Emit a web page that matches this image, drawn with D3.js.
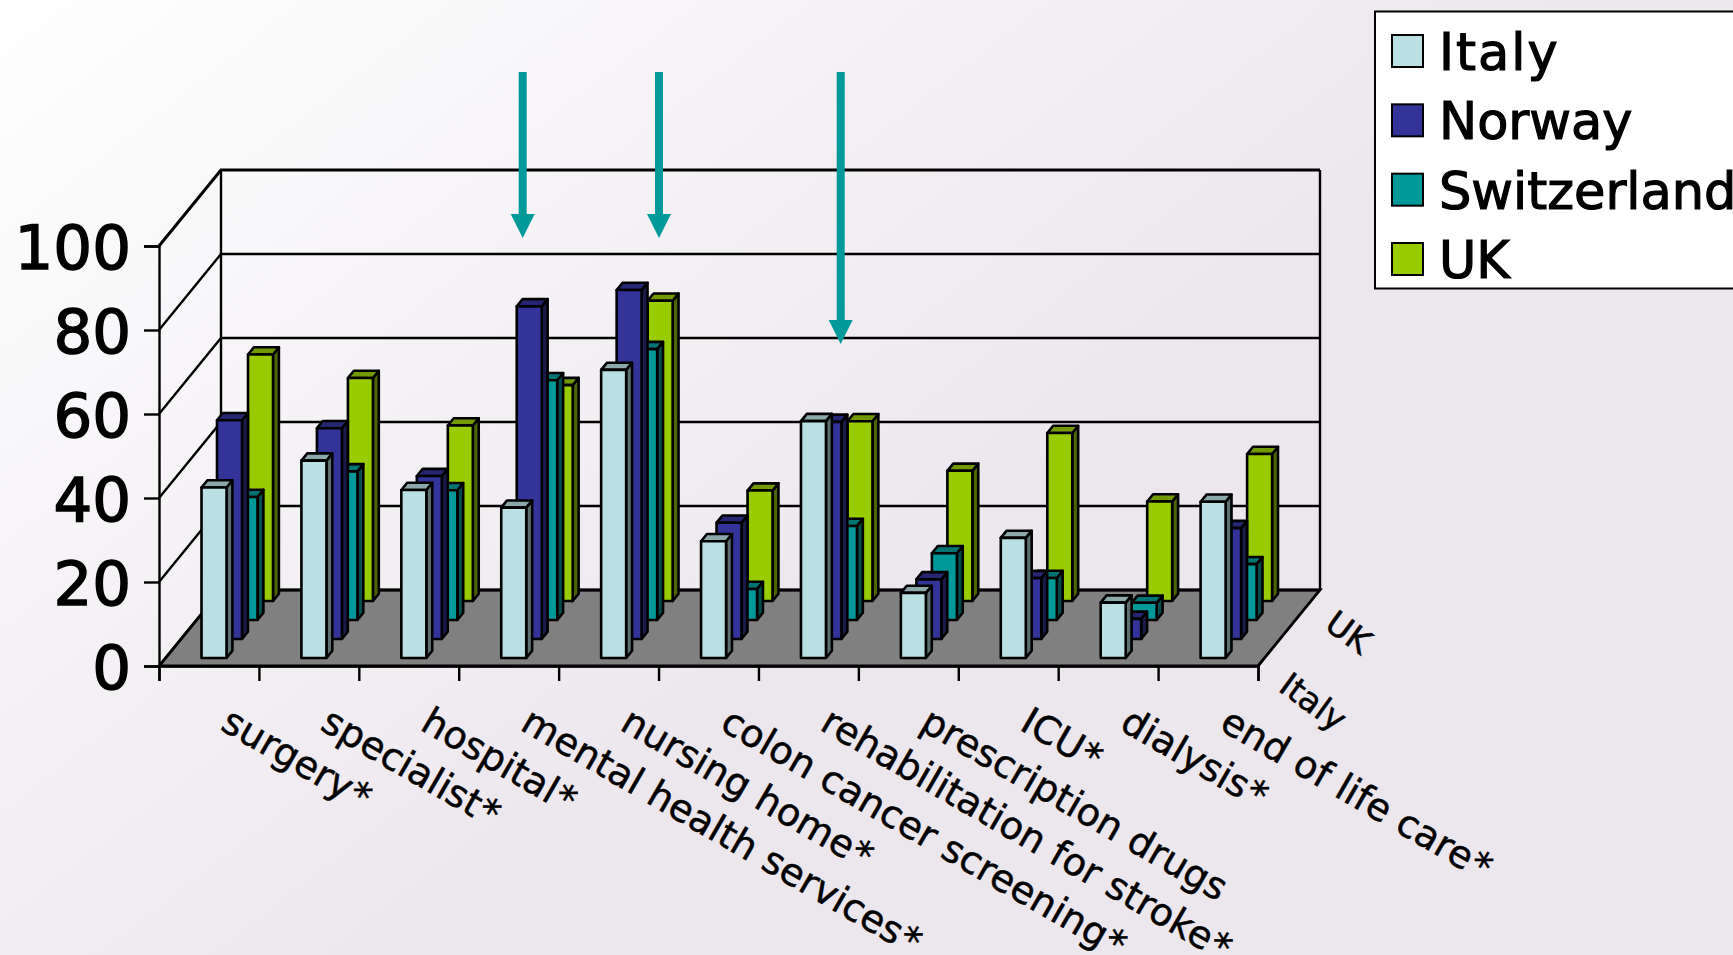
<!DOCTYPE html>
<html>
<head>
<meta charset="utf-8">
<script src="https://cdn.jsdelivr.net/npm/d3@7/dist/d3.min.js"></script>
<style>
  html, body { margin: 0; padding: 0; overflow: hidden; background: #ece8ee; }
  svg { display: block; font-family: "DejaVu Sans", sans-serif; }
</style>
</head>
<body>
<svg id="chart" width="1733" height="955"></svg>
<script>
// Share of patients per service and country, estimated from the plotted bars
const categories = ["surgery*", "specialist*", "hospital*", "mental health services*", "nursing home*",
  "colon cancer screening*", "rehabilitation for stroke*", "prescription drugs", "ICU*", "dialysis*", "end of life care*"];
const seriesNames = ["Italy", "Norway", "Switzerland", "UK"];
const italy       = [40.6, 47, 40, 35.8, 68.6, 27.8, 56.4, 15.5, 28.6, 13.2, 37.2];
const norway      = [52.1, 50.2, 38.8, 79.2, 83.1, 27.7, 51.7, 14.2, 14.5, 4.8, 26.4];
const switzerland = [29.3, 35.4, 30.9, 57.1, 64.5, 7.4, 22.4, 15.9, 10, 4.1, 13.3];
const uk          = [58.7, 53.1, 41.8, 51.4, 71.5, 26.3, 42.8, 31, 40, 23.7, 35];
const seriesValues = [italy, norway, switzerland, uk];
const yTicks = [0, 20, 40, 60, 80, 100];
const fills = ["#BBE0E3", "#333399", "#009999", "#99CC00"];
const arrows = [{ x: 522.7, tip: 238 }, { x: 659, tip: 238 }, { x: 840.7, tip: 344 }];

const svg = d3.select("#chart");
const W = 1733, H = 955;

// Page background
const defs = svg.append("defs");
const bg = defs.append("linearGradient").attr("id", "bg")
  .attr("gradientUnits", "userSpaceOnUse")
  .attr("x1", 0).attr("y1", 0).attr("x2", 620).attr("y2", 800);
bg.append("stop").attr("offset", 0).attr("stop-color", "#ffffff");
bg.append("stop").attr("offset", 1).attr("stop-color", "#ece7ed");
svg.append("rect").attr("width", W).attr("height", H).attr("fill", "url(#bg)");

// Scales: front plane of the box plus an oblique depth offset
const depthX = 62, depthY = -76;
const x = d3.scaleBand().domain(categories).range([159, 1258]);
const xEdge = d3.scaleLinear().domain([0, categories.length]).range([159, 1258]);
const y = d3.scaleLinear().domain([0, 100]).range([666, 246]);
const z = d3.scaleBand().domain(seriesNames).range([0, 1]);

const line = d3.line();
const plot = svg.append("g");

// Floor
const frontY = y(0), left = x.range()[0], right = x.range()[1];
plot.append("path")
  .attr("d", line([[left, frontY], [right, frontY], [right + depthX, frontY + depthY], [left + depthX, frontY + depthY]]) + "Z")
  .attr("fill", "#808080").attr("stroke", "#000").attr("stroke-width", 2.8);

// Wall grid: back wall horizontals and side wall diagonals
yTicks.forEach(t => {
  const yy = y(t);
  plot.append("path").attr("fill", "none").attr("stroke", "#000").attr("stroke-width", t === 100 ? 3 : 2.4)
    .attr("d", line([[left, yy], [left + depthX, yy + depthY], [right + depthX, yy + depthY]]));
});
plot.append("path").attr("fill", "none").attr("stroke", "#000").attr("stroke-width", 2.4)
  .attr("d", line([[left + depthX, y(0) + depthY], [left + depthX, y(100) + depthY]]));
plot.append("path").attr("fill", "none").attr("stroke", "#000").attr("stroke-width", 2.4)
  .attr("d", line([[right + depthX, y(0) + depthY], [right + depthX, y(100) + depthY]]));

// Axes
const yAxis = svg.append("g").attr("transform", `translate(${left},0)`)
  .call(d3.axisLeft(y).tickValues(yTicks).tickSize(15).tickPadding(13));
yAxis.selectAll("line, path").attr("stroke", "#000").attr("stroke-width", 2.4);
yAxis.selectAll("text").attr("font-family", '"DejaVu Sans", sans-serif').attr("font-size", 61)
  .attr("dy", "0.37em").attr("fill", "#000").attr("stroke", "#000").attr("stroke-width", 1.5);

const xAxis = svg.append("g").attr("transform", `translate(0,${frontY})`)
  .call(d3.axisBottom(xEdge).tickValues(d3.range(categories.length + 1)).tickSize(15).tickFormat(""));
xAxis.selectAll("line, path").attr("stroke", "#000").attr("stroke-width", 2.4);

// Bars, back row first so nearer rows overlap farther ones
const barW = 25, barInset = 36, rowStart = 0.105, barDepth = 0.095;
const shade = (c, k) => { const r = d3.rgb(c); return d3.rgb(r.r * k, r.g * k, r.b * k).formatHex(); };

seriesNames.map((s, i) => i).reverse().forEach(si => {
  const name = seriesNames[si], fill = fills[si];
  const t0 = z(name) + rowStart;
  const ox = t0 * depthX, oy = t0 * depthY;
  const dx = barDepth * depthX, dy = barDepth * depthY;
  const g = plot.append("g").attr("stroke", "#000").attr("stroke-width", 2.6).attr("stroke-linejoin", "round");
  categories.forEach((c, ci) => {
    const x0 = x(c) + barInset + ox, x1 = x0 + barW;
    const yb = y(0) + oy, yt = y(seriesValues[si][ci]) + oy;
    g.append("path").attr("fill", shade(fill, 0.5))
      .attr("d", line([[x1, yb], [x1 + dx, yb + dy], [x1 + dx, yt + dy], [x1, yt]]) + "Z");
    g.append("path").attr("fill", shade(fill, 0.75))
      .attr("d", line([[x0, yt], [x1, yt], [x1 + dx, yt + dy], [x0 + dx, yt + dy]]) + "Z");
    g.append("rect").attr("x", x0).attr("y", yt).attr("width", barW).attr("height", yb - yt).attr("fill", fill);
  });
});

// Category labels along the front edge; the asterisk sits a little apart from the word
const catLabels = svg.append("g").selectAll("text").data(categories).join("text")
  .attr("transform", d => `translate(${x(d) + x.bandwidth() / 2 + 10},729) rotate(30)`)
  .attr("font-size", 38).attr("fill", "#000").attr("stroke", "#000").attr("stroke-width", 0.5);
catLabels.append("tspan").text(d => d.replace(/\*$/, ""));
catLabels.filter(d => d.endsWith("*")).append("tspan").attr("dx", 1.5).text("*");

// Depth labels for the first and last rows
[["UK", 1323, 628], ["Italy", 1277, 690]].forEach(([label, lx, ly]) => {
  svg.append("text").attr("transform", `translate(${lx},${ly}) rotate(36)`)
    .attr("font-size", 33.5).attr("fill", "#000").attr("stroke", "#000").attr("stroke-width", 0.5).text(label);
});

// Arrows marking the services of interest
const arrowColor = "#009999";
arrows.forEach(a => {
  svg.append("rect").attr("x", a.x - 4).attr("y", 72).attr("width", 8).attr("height", a.tip - 24 - 72).attr("fill", arrowColor);
  svg.append("path").attr("fill", arrowColor)
    .attr("d", line([[a.x - 12, a.tip - 24], [a.x + 12, a.tip - 24], [a.x, a.tip]]) + "Z");
});

// Legend
const legend = svg.append("g");
legend.append("rect").attr("x", 1375).attr("y", 11.5).attr("width", 400).attr("height", 277)
  .attr("fill", "#fff").attr("stroke", "#000").attr("stroke-width", 2);
const legendRow = d3.scalePoint().domain(seriesNames).range([51, 259]);
seriesNames.forEach((s, i) => {
  const cy = legendRow(s);
  legend.append("rect").attr("x", 1392).attr("y", cy - 16).attr("width", 31).attr("height", 32)
    .attr("fill", fills[i]).attr("stroke", "#000").attr("stroke-width", 2);
  legend.append("text").attr("x", 1439).attr("y", cy + 19).attr("font-size", 51)
    .attr("letter-spacing", s === "Italy" ? 2 : 0)
    .attr("fill", "#000").attr("stroke", "#000").attr("stroke-width", 1.2).text(s);
});
</script>
</body>
</html>
